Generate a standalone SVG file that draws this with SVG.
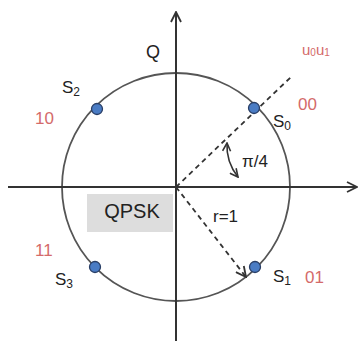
<svg xmlns="http://www.w3.org/2000/svg" width="363" height="342" viewBox="0 0 363 342">
<defs>
<style>
.t{font-family:"Liberation Sans",Arial,sans-serif;font-size:17px;fill:#222}
.r{font-family:"Liberation Sans",Arial,sans-serif;font-size:17px;fill:#d46a6a}
.s{font-size:12px}
.ax{stroke:#333;stroke-width:2;fill:none}
.dash{stroke:#333;stroke-width:1.8;stroke-dasharray:5,4;fill:none}
.pt{fill:#4a7cc4;stroke:#2a3f66;stroke-width:1.3}
</style>
<marker id="open" viewBox="0 0 12 12" refX="11" refY="6" markerWidth="12" markerHeight="12" markerUnits="userSpaceOnUse" orient="auto">
<path d="M1,1 L11,6 L1,11" fill="none" stroke="#333" stroke-width="1.8"/>
</marker>
<marker id="small" viewBox="0 0 10 10" refX="9" refY="5" markerWidth="10" markerHeight="10" markerUnits="userSpaceOnUse" orient="auto-start-reverse">
<path d="M1,1 L9,5 L1,9" fill="none" stroke="#333" stroke-width="1.6"/>
</marker>
</defs>
<rect width="363" height="342" fill="#fff"/>
<rect x="87" y="194" width="86" height="38" fill="#dddddd"/>
<g id="connectors">
<circle cx="176" cy="187" r="114" fill="none" stroke="#555" stroke-width="1.8"/>
<line class="ax" x1="176" y1="341" x2="176" y2="12" marker-end="url(#open)"/>
<line class="ax" x1="8" y1="187" x2="357" y2="187" marker-end="url(#open)"/>
<line class="dash" x1="176" y1="187" x2="291" y2="77"/>
<line class="dash" x1="176" y1="187" x2="246" y2="277" marker-end="url(#open)"/>
<path d="M227,143 Q226,162 238,177" fill="none" stroke="#333" stroke-width="1.6" marker-start="url(#small)" marker-end="url(#small)"/>
</g>
<g id="S0"><circle class="pt" cx="254" cy="108" r="5.5"/><text class="t" x="273" y="127">S<tspan class="s" dy="3">0</tspan></text><text class="r" x="298" y="110">00</text></g>
<g id="S1"><circle class="pt" cx="255" cy="267" r="5.5"/><text class="t" x="273" y="282">S<tspan class="s" dy="3">1</tspan></text><text class="r" x="305" y="283">01</text></g>
<g id="S2"><circle class="pt" cx="97" cy="109" r="5.5"/><text class="t" x="62" y="93">S<tspan class="s" dy="3">2</tspan></text><text class="r" x="35" y="124">10</text></g>
<g id="S3"><circle class="pt" cx="95" cy="267" r="5.5"/><text class="t" x="55" y="285">S<tspan class="s" dy="3">3</tspan></text><text class="r" x="35" y="256">11</text></g>
<g id="labels">
<text class="t" x="146" y="58" style="font-size:18px">Q</text>
<text class="r" x="302" y="55" style="font-size:15px">u<tspan dy="1" style="font-size:10px">0</tspan><tspan dy="-1">u</tspan><tspan dy="1" style="font-size:10px">1</tspan></text>
<text class="t" x="242" y="167">π/4</text>
<text class="t" x="213" y="222">r=1</text>
<text class="t" x="132" y="218" text-anchor="middle" style="font-size:20px">QPSK</text>
</g>
</svg>
